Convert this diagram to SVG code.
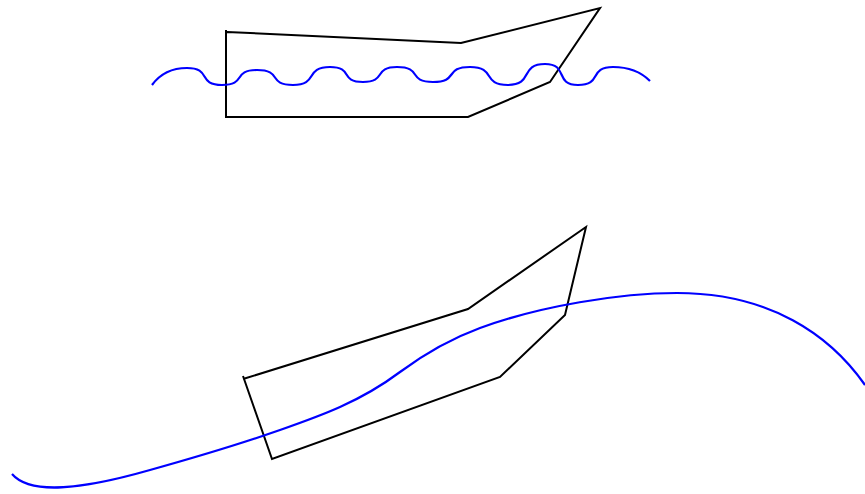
<svg xmlns="http://www.w3.org/2000/svg" width="865" height="494" viewBox="0 0 865 494">
<style>
.boat{fill:none;stroke:#000;stroke-width:2;stroke-linejoin:miter}
.wave{fill:none;stroke:#0000ff;stroke-width:2.2;stroke-linecap:butt}
</style>
<rect width="865" height="494" fill="#fff"/>
<g id="scene-top">
<path id="boat-top" class="boat" d="M227,32 L461,43 L600,8 L550,82 L468,117 L226,117 L226,30"/>
<path id="wave-top" class="wave" d="M152,85 C160,74 172,68 187,68 C212,68 197,85 222,85 C247,85 232,70 257,70 C283,70 267,85 293,85 C319,85 304,67 330,67 C354,67 339,82 363,82 C387,82 373,67 397,67 C423,67 407,82 433,82 C459,82 444,67 470,67 C497,67 481,85 508,85 C534,85 519,64 545,64 C569,64 554,85 578,85 C603,85 588,67 613,67 C630,67 642,73 650,81"/>
</g>
<g id="scene-bottom">
<path id="boat-bottom" class="boat" d="M243,379 L468,309 L586,227 L565,315 L500,377 L272,459 L243,376"/>
<path id="wave-bottom" class="wave" d="M12,474 C30,495 80,490 150,470 C193,458 240,444 280,430 C320,416 360,402 400,372 C427,352 450,339 480,328 C540,306 620,293 677,293 C770,293 830,335 865,385"/>
</g>
</svg>
